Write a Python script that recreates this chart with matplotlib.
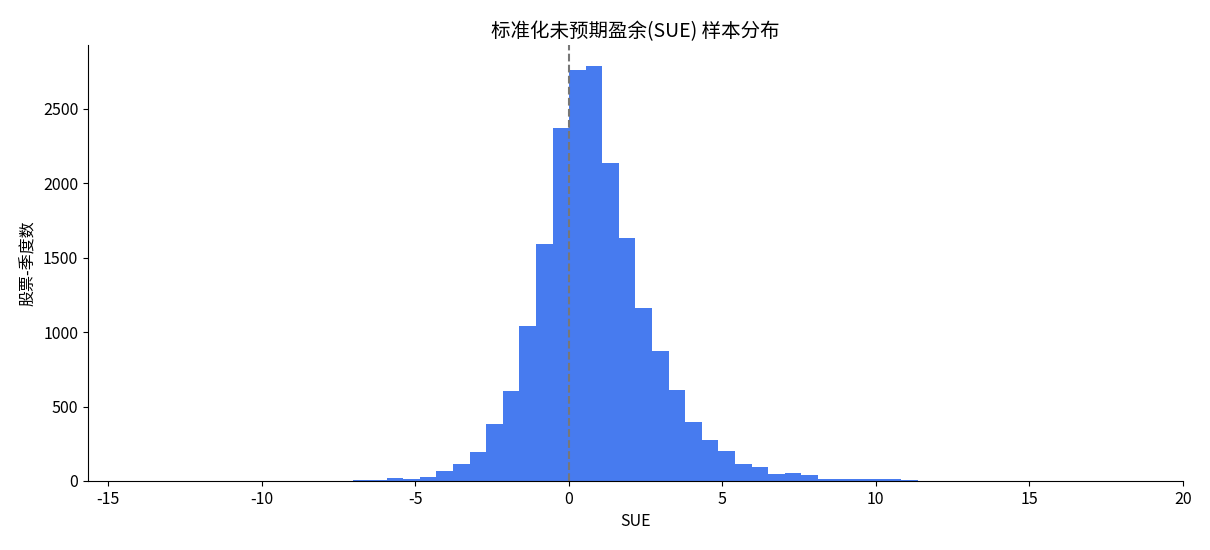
import numpy as np
import matplotlib
matplotlib.use("Agg")
import matplotlib.pyplot as plt

plt.rcParams['font.family'] = ['Noto Sans CJK SC', 'DejaVu Sans']
plt.rcParams['axes.unicode_minus'] = False

# histogram of SUE: 60 equal bins between the sample min and max
sue_min = -14.03
sue_max = 18.38
n_bins = 60
counts = [
    1, 0, 0, 0, 0, 0, 0, 0, 0, 0,
    0, 0, 0, 6, 8, 20, 13, 28, 68, 112,
    197, 385, 605, 1042, 1593, 2372, 2762, 2789, 2137, 1633,
    1163, 874, 612, 396, 275, 202, 114, 94, 47, 54,
    40, 12, 12, 12, 12, 12, 6, 0, 0, 0,
    0, 0, 0, 0, 0, 0, 0, 0, 0, 1,
]

edges = np.linspace(sue_min, sue_max, n_bins + 1)
centers = (edges[:-1] + edges[1:]) / 2

fig = plt.figure(figsize=(12.1, 5.5), dpi=100)
ax = fig.add_axes([0.0727, 0.1255, 0.905, 0.7925])

ax.hist(centers, bins=edges, weights=counts, color='#477BEF')
ax.axvline(0, color='#777777', linestyle='--', linewidth=1.5)

ax.set_title('标准化未预期盈余(SUE) 样本分布', fontsize=14)
ax.set_xlabel('SUE', fontsize=11.5)
ax.set_ylabel('股票-季度数', fontsize=11.5)
ax.tick_params(labelsize=11.5)
ax.spines['top'].set_visible(False)
ax.spines['right'].set_visible(False)

fig.savefig('out.png', dpi=100)
